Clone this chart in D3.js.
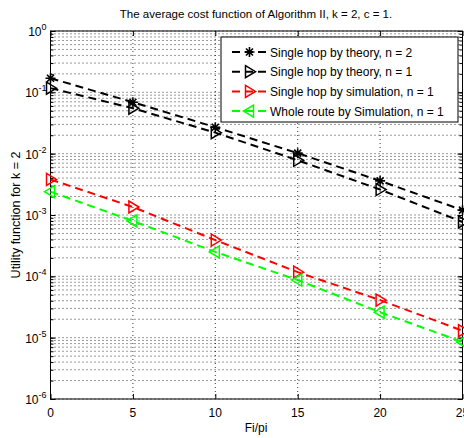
<!DOCTYPE html>
<html><head><meta charset="utf-8">
<script src="https://cdn.jsdelivr.net/npm/d3@7"></script>
<style>body{margin:0;background:#fff}text{font-family:Arial,"Liberation Sans",sans-serif}</style>
</head><body><svg id="c" width="464" height="438"></svg>
<script>
const xValues = [0, 5, 10, 15, 20, 25];
const theoryN2 = [0.17, 0.069, 0.027, 0.0102, 0.0036, 0.0012];
const theoryN1 = [0.117, 0.055, 0.022, 0.0078, 0.0026, 0.00077];
const simSingle = [0.0038, 0.00135, 0.00039, 0.000117, 0.000041, 0.000013];
const simWhole = [0.0024, 0.0008, 0.00025, 0.000087, 0.000026, 0.0000085];
const xTicks = [0, 5, 10, 15, 20, 25];
const yExponents = [0, -1, -2, -3, -4, -5, -6];
const seriesNames = ["Single hop by theory, n = 2", "Single hop by theory, n = 1", "Single hop by simulation, n = 1", "Whole route by Simulation, n = 1"];

const svg = d3.select("#c");
const L = 50.5, R = 462.5, T = 31, B = 399;
const x = d3.scaleLinear().domain([0, 25]).range([L, R]);
const y = d3.scaleLog().domain([1e-6, 1]).range([B, T]);

// grid
const g = svg.append("g");
const minor = [];
for (let e = -6; e < 0; e++) for (let m = 1; m <= 9; m++) minor.push(m * Math.pow(10, e));
minor.push(1);
g.selectAll("line.hg").data(minor).enter().append("line")
  .attr("x1", L).attr("x2", R).attr("y1", d => y(d)).attr("y2", d => y(d))
  .attr("stroke", "#000").attr("stroke-width", 0.8).attr("stroke-dasharray", "1,3");
g.selectAll("line.vg").data(xTicks).enter().append("line")
  .attr("x1", d => x(d)).attr("x2", d => x(d)).attr("y1", T).attr("y2", B)
  .attr("stroke", "#000").attr("stroke-width", 0.8).attr("stroke-dasharray", "1,3");

// axes with inner ticks
const xAxB = d3.axisBottom(x).tickValues(xTicks).tickSize(-5).tickFormat("");
const xAxT = d3.axisTop(x).tickValues(xTicks).tickSize(-5).tickFormat("");
const yAxL = d3.axisLeft(y).tickValues(minor).tickSize(-3).tickFormat("");
const yAxR = d3.axisRight(y).tickValues(minor).tickSize(-3).tickFormat("");
const yMajL = d3.axisLeft(y).tickValues(yExponents.map(e => Math.pow(10, e))).tickSize(-5).tickFormat("");
const yMajR = d3.axisRight(y).tickValues(yExponents.map(e => Math.pow(10, e))).tickSize(-5).tickFormat("");
[[xAxB, `translate(0,${B})`], [xAxT, `translate(0,${T})`], [yAxL, `translate(${L},0)`], [yAxR, `translate(${R},0)`], [yMajL, `translate(${L},0)`], [yMajR, `translate(${R},0)`]].forEach(([a, t]) => {
  const ag = svg.append("g").attr("transform", t).call(a);
  ag.select(".domain").remove();
  ag.selectAll("line").attr("stroke", "#000");
});
svg.append("rect").attr("x", L).attr("y", T).attr("width", R - L).attr("height", B - T)
  .attr("fill", "none").attr("stroke", "#000").attr("stroke-width", 1);

// tick labels
svg.selectAll("text.xt").data(xTicks).enter().append("text")
  .attr("x", d => x(d)).attr("y", B + 18).attr("text-anchor", "middle")
  .attr("font-size", 12).text(d => d);
const yl = svg.selectAll("text.yt").data(yExponents).enter().append("text")
  .attr("x", L - 4).attr("y", d => y(Math.pow(10, d)) + 5).attr("text-anchor", "end").attr("font-size", 12);
yl.append("tspan").text("10");
yl.append("tspan").attr("dy", -6).attr("font-size", 9).text(d => d);

// titles
svg.append("text").attr("x", 256).attr("y", 18).attr("text-anchor", "middle").attr("font-size", 11.5)
  .text("The average cost function of Algorithm II, k = 2, c = 1.");
svg.append("text").attr("x", 256).attr("y", 432).attr("text-anchor", "middle").attr("font-size", 12).text("Fi/pi");
svg.append("text").attr("transform", "translate(20,215) rotate(-90)").attr("text-anchor", "middle")
  .attr("font-size", 12.5).text("Utility function for k = 2");

// markers
function marker(sel, type, color) {
  if (type === "star") {
    sel.append("path").attr("d", "M-5,0H5M0,-5V5M-3.5,-3.5L3.5,3.5M-3.5,3.5L3.5,-3.5")
      .attr("stroke", color).attr("stroke-width", 1.6).attr("fill", "none");
  } else if (type === "right") {
    sel.append("path").attr("d", "M-4,-6L6,0L-4,6Z").attr("stroke", color).attr("stroke-width", 1.5).attr("fill", "none");
  } else {
    sel.append("path").attr("d", "M4,-6L-6,0L4,6Z").attr("stroke", color).attr("stroke-width", 1.5).attr("fill", "none");
  }
}
const series = [
  { v: theoryN2, c: "#000", m: "star" },
  { v: theoryN1, c: "#000", m: "right" },
  { v: simSingle, c: "#ff0000", m: "right" },
  { v: simWhole, c: "#00ff00", m: "left" }
];
const line = d3.line().x((d, i) => x(xValues[i])).y(d => y(d));
series.forEach(s => {
  svg.append("path").datum(s.v).attr("d", line).attr("fill", "none").attr("stroke", s.c)
    .attr("stroke-width", 2).attr("stroke-dasharray", "8,5");
  s.v.forEach((d, i) => {
    const mg = svg.append("g").attr("transform", `translate(${x(xValues[i])},${y(d)})`);
    marker(mg, s.m, s.c);
  });
});

// legend
const lg = svg.append("g");
lg.append("rect").attr("x", 221).attr("y", 37).attr("width", 237).attr("height", 85)
  .attr("fill", "#fff").attr("stroke", "#000").attr("stroke-width", 1);
series.forEach((s, i) => {
  const yy = 52 + i * 19.7;
  lg.append("line").attr("x1", 232).attr("x2", 267).attr("y1", yy).attr("y2", yy)
    .attr("stroke", s.c).attr("stroke-width", 2).attr("stroke-dasharray", "8,5");
  const mg = lg.append("g").attr("transform", `translate(249.5,${yy})`);
  marker(mg, s.m, s.c);
  lg.append("text").attr("x", 270).attr("y", yy + 4.5).attr("font-size", 12).text(seriesNames[i]);
});
</script></body></html>
